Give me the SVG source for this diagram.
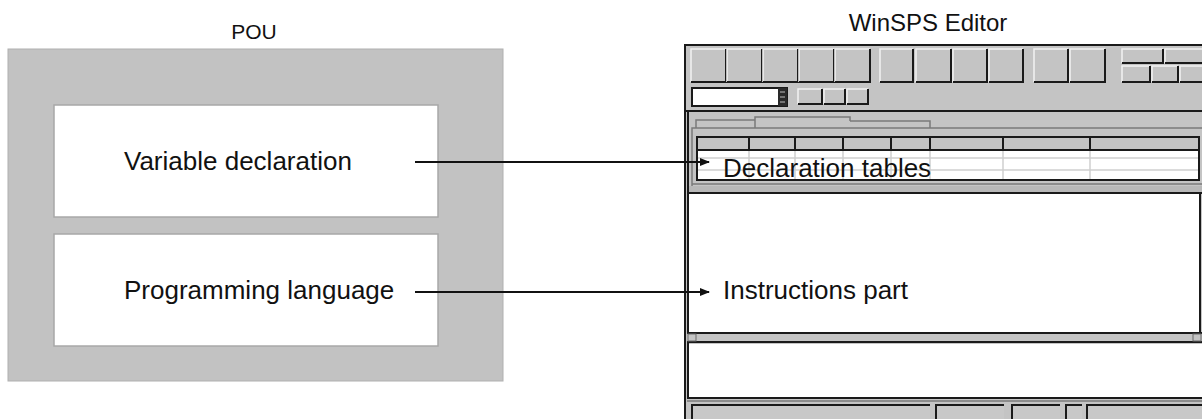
<svg xmlns="http://www.w3.org/2000/svg" width="1202" height="419" viewBox="0 0 1202 419">
  <style>
    .lbl { font-family: "Liberation Sans", Arial, sans-serif; fill: #111; }
    .big { font-size: 26px; }
    .title { font-size: 21px; }
    .title-wide { font-size: 24px; }
    .btn { fill: #c4c4c4; }
    .hi { fill: none; stroke: #f2f2f2; stroke-width: 1.5; }
    .sh { fill: none; stroke: #1a1a1a; stroke-width: 2; }
    .dark { stroke: #1a1a1a; stroke-width: 2; fill: none; }
    .mid { stroke: #7a7a7a; stroke-width: 1.5; fill: none; }
    .grid { stroke: #cfcfcf; stroke-width: 1.5; fill: none; }
    .conn { stroke: #111; stroke-width: 2; fill: none; }
  </style>
  <defs>
    <marker id="arrow" markerWidth="10" markerHeight="8" refX="9" refY="4" orient="auto" markerUnits="userSpaceOnUse">
      <path d="M0,0 L10,4 L0,8 Z" fill="#111"/>
    </marker>
  </defs>

  <rect x="0" y="0" width="1202" height="419" fill="#ffffff"/>

  <!-- POU block -->
  <g id="pou">
    <text class="lbl title" x="254" y="39" text-anchor="middle">POU</text>
    <rect x="8" y="49" width="495" height="332" fill="#c2c2c2" stroke="#b0b0b0" stroke-width="1"/>
  </g>
  <g id="var-decl">
    <rect x="54" y="105" width="384" height="112" fill="#ffffff" stroke="#a8a8a8" stroke-width="1.5"/>
    <text class="lbl big" x="124" y="170">Variable declaration</text>
  </g>
  <g id="prog-lang">
    <rect x="54" y="234" width="384" height="112" fill="#ffffff" stroke="#a8a8a8" stroke-width="1.5"/>
    <text class="lbl big" x="124" y="299">Programming language</text>
  </g>

  <!-- WinSPS editor window -->
  <g id="editor">
    <text class="lbl title-wide" x="928" y="31" text-anchor="middle">WinSPS Editor</text>
    <rect x="685" y="45" width="530" height="390" fill="#c4c4c4" stroke="#1a1a1a" stroke-width="2"/>

    <!-- toolbar row 1 -->
    <g id="toolbar">
      <g>
        <rect class="btn" x="691" y="49" width="35" height="33"/><path class="hi" d="M691,82 V49 H726"/><path class="sh" d="M726,49 V82 H691"/>
        <rect class="btn" x="727" y="49" width="35" height="33"/><path class="hi" d="M727,82 V49 H762"/><path class="sh" d="M762,49 V82 H727"/>
        <rect class="btn" x="763" y="49" width="35" height="33"/><path class="hi" d="M763,82 V49 H798"/><path class="sh" d="M798,49 V82 H763"/>
        <rect class="btn" x="799" y="49" width="35" height="33"/><path class="hi" d="M799,82 V49 H834"/><path class="sh" d="M834,49 V82 H799"/>
        <rect class="btn" x="835" y="49" width="35" height="33"/><path class="hi" d="M835,82 V49 H870"/><path class="sh" d="M870,49 V82 H835"/>
      </g>
      <g>
        <rect class="btn" x="880" y="49" width="33" height="33"/><path class="hi" d="M880,82 V49 H913"/><path class="sh" d="M913,49 V82 H880"/>
        <rect class="btn" x="916" y="49" width="35" height="33"/><path class="hi" d="M916,82 V49 H951"/><path class="sh" d="M951,49 V82 H916"/>
        <rect class="btn" x="953" y="49" width="34" height="33"/><path class="hi" d="M953,82 V49 H987"/><path class="sh" d="M987,49 V82 H953"/>
        <rect class="btn" x="989" y="49" width="34" height="33"/><path class="hi" d="M989,82 V49 H1023"/><path class="sh" d="M1023,49 V82 H989"/>
      </g>
      <g>
        <rect class="btn" x="1034" y="49" width="34" height="33"/><path class="hi" d="M1034,82 V49 H1068"/><path class="sh" d="M1068,49 V82 H1034"/>
        <rect class="btn" x="1070" y="49" width="35" height="33"/><path class="hi" d="M1070,82 V49 H1105"/><path class="sh" d="M1105,49 V82 H1070"/>
      </g>
      <g>
        <rect class="btn" x="1122" y="49" width="41" height="14"/><path class="hi" d="M1122,63 V49 H1163"/><path class="sh" d="M1163,49 V63 H1122"/>
        <rect class="btn" x="1165" y="49" width="40" height="14"/><path class="hi" d="M1165,63 V49 H1205"/><path class="sh" d="M1205,49 V63 H1165"/>
        <rect class="btn" x="1122" y="66" width="28" height="16"/><path class="hi" d="M1122,82 V66 H1150"/><path class="sh" d="M1150,66 V82 H1122"/>
        <rect class="btn" x="1152" y="66" width="26" height="16"/><path class="hi" d="M1152,82 V66 H1178"/><path class="sh" d="M1178,66 V82 H1152"/>
        <rect class="btn" x="1180" y="66" width="25" height="16"/><path class="hi" d="M1180,82 V66 H1205"/><path class="sh" d="M1205,66 V82 H1180"/>
      </g>

      <!-- toolbar row 2: combo box and small buttons -->
      <rect x="692" y="88" width="95" height="18" fill="#ffffff" stroke="#1a1a1a" stroke-width="2"/>
      <rect x="778" y="88" width="9" height="18" fill="#2a2a2a"/>
      <path d="M780,92 H785 M780,97 H785 M780,102 H785" stroke="#bdbdbd" stroke-width="1.2"/>
      <rect class="btn" x="798" y="89" width="24" height="15"/><path class="hi" d="M798,104 V89 H822"/><path class="sh" d="M822,89 V104 H798"/>
      <rect class="btn" x="824" y="89" width="21" height="15"/><path class="hi" d="M824,104 V89 H845"/><path class="sh" d="M845,89 V104 H824"/>
      <rect class="btn" x="847" y="89" width="21" height="15"/><path class="hi" d="M847,104 V89 H868"/><path class="sh" d="M868,89 V104 H847"/>
    </g>

    <line class="dark" x1="685" y1="111" x2="1202" y2="111"/>

    <!-- tabs -->
    <path class="mid" d="M696,128 V120 H755"/>
    <path class="mid" d="M755,128 V117 H850 V121"/>
    <path class="mid" d="M850,121 H930 V128"/>
    <path class="mid" d="M692,188 V128 H1202"/>

    <!-- declaration table -->
    <g id="decl-table">
      <rect x="697" y="137" width="502" height="43" fill="#ffffff"/>
      <rect x="697" y="137" width="502" height="13" fill="#c4c4c4"/>
      <path class="grid" d="M697,158 H1199 M697,170 H1199 M749,150 V180 M795,150 V180 M843,150 V180 M891,150 V180 M930,150 V180 M1003,150 V180 M1090,150 V180"/>
      <path class="dark" d="M697,150 H1199 M749,137 V150 M795,137 V150 M843,137 V150 M891,137 V150 M930,137 V150 M1003,137 V150 M1090,137 V150"/>
      <rect x="697" y="137" width="502" height="43" fill="none" stroke="#1a1a1a" stroke-width="2"/>
      <text class="lbl big" x="723" y="177">Declaration tables</text>
    </g>

    <!-- splitter above instruction part -->
    <path class="mid" d="M692,184 H1202"/>
    <rect x="687" y="186" width="515" height="6" fill="#b8b8b8"/>
    <path class="dark" d="M687,193 H1202"/>

    <!-- instruction part -->
    <g id="instr-pane">
      <rect x="689" y="194" width="510" height="139" fill="#ffffff"/>
      <line class="dark" x1="1200" y1="194" x2="1200" y2="333"/>
      <line class="dark" x1="688" y1="111" x2="688" y2="398"/>
      <text class="lbl big" x="723" y="299">Instructions part</text>
    </g>

    <!-- horizontal scroll bar -->
    <rect x="687" y="334" width="515" height="7" fill="#c4c4c4"/>
    <path class="dark" d="M687,333 H1202 M687,342 H1202"/>
    <rect x="688" y="334" width="8" height="7" fill="#c4c4c4" stroke="#6a6a6a" stroke-width="1"/>
    <rect x="1193" y="334" width="8" height="7" fill="#c4c4c4" stroke="#6a6a6a" stroke-width="1"/>

    <!-- lower pane -->
    <rect x="689" y="344" width="513" height="54" fill="#ffffff"/>
    <path class="dark" d="M687,398 H1202"/>
    <path class="mid" d="M687,401 H1202"/>

    <!-- status bar -->
    <g id="statusbar">
      <rect x="692" y="405" width="238" height="16" fill="#c8c8c8"/><path class="sh" d="M692,419 V405 H930"/>
      <rect x="936" y="405" width="68" height="16" fill="#c8c8c8"/><path class="sh" d="M936,419 V405 H1004"/>
      <rect x="1012" y="405" width="48" height="16" fill="#c8c8c8"/><path class="sh" d="M1012,419 V405 H1060"/>
      <rect x="1066" y="405" width="16" height="16" fill="#c8c8c8"/><path class="sh" d="M1066,419 V405 H1082"/>
      <rect x="1087" y="405" width="118" height="16" fill="#c8c8c8"/><path class="sh" d="M1087,419 V405 H1205"/>
    </g>
  </g>

  <!-- connectors -->
  <g id="connectors">
    <line class="conn" x1="415" y1="162" x2="709" y2="162" marker-end="url(#arrow)"/>
    <line class="conn" x1="415" y1="292" x2="709" y2="292" marker-end="url(#arrow)"/>
  </g>
</svg>
